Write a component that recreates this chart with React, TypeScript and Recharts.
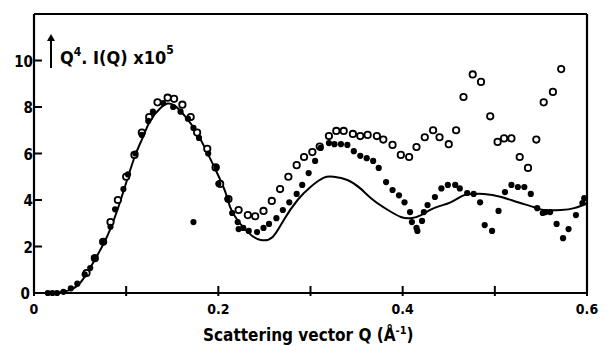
import { ComposedChart, Line, Scatter, XAxis, YAxis } from "recharts";

// theory curve Q^4 I(Q) x 10^5
const curveQ = [0.021, 0.036, 0.05, 0.064, 0.079, 0.093, 0.108, 0.117, 0.126, 0.137, 0.145, 0.153, 0.164, 0.175, 0.186, 0.197, 0.208, 0.215, 0.232, 0.246, 0.259, 0.271, 0.286, 0.3, 0.314, 0.325, 0.34, 0.354, 0.368, 0.384, 0.398, 0.409, 0.42, 0.434, 0.452, 0.466, 0.476, 0.488, 0.507, 0.525, 0.542, 0.553, 0.572, 0.586, 0.6];
const curveI = [0, 0.09, 0.43, 1.29, 2.4, 3.87, 5.72, 6.6, 7.4, 7.95, 8.15, 8.05, 7.6, 7.0, 6.2, 5.3, 4.3, 3.5, 2.62, 2.28, 2.41, 3.14, 4.0, 4.56, 4.95, 5.0, 4.86, 4.5, 4.0, 3.57, 3.27, 3.22, 3.35, 3.65, 3.9, 4.2, 4.26, 4.26, 4.13, 3.9, 3.7, 3.57, 3.57, 3.65, 3.85];

// filled circles
const filledQ = [0.015, 0.02, 0.025, 0.032, 0.04, 0.047, 0.055, 0.061, 0.066, 0.075, 0.083, 0.088, 0.097, 0.102, 0.11, 0.117, 0.124, 0.129, 0.14, 0.151, 0.159, 0.167, 0.173, 0.179, 0.189, 0.198, 0.2, 0.21, 0.215, 0.221, 0.222, 0.227, 0.233, 0.242, 0.249, 0.255, 0.263, 0.27, 0.277, 0.285, 0.291, 0.298, 0.305, 0.311, 0.32, 0.326, 0.333, 0.34, 0.347, 0.354, 0.361, 0.368, 0.374, 0.382, 0.389, 0.396, 0.402, 0.408, 0.41, 0.415, 0.416, 0.421, 0.423, 0.427, 0.435, 0.442, 0.449, 0.457, 0.462, 0.47, 0.477, 0.484, 0.489, 0.497, 0.504, 0.511, 0.518, 0.525, 0.532, 0.539, 0.546, 0.552, 0.555, 0.56, 0.567, 0.574, 0.58, 0.588, 0.595, 0.597, 0.173];
const filledI = [0, 0, 0, 0.05, 0.2, 0.4, 0.8, 1.07, 1.5, 2.2, 2.85, 3.6, 4.47, 5.1, 6.0, 6.8, 7.4, 7.8, 8.17, 8.0, 7.8, 7.5, 7.1, 6.67, 6.0, 5.4, 4.7, 4.04, 3.44, 3.05, 2.75, 2.8, 2.67, 2.62, 2.8, 2.97, 3.22, 3.57, 3.9, 4.26, 4.65, 5.16, 5.68, 6.24, 6.45, 6.4, 6.4, 6.37, 6.1, 5.9, 5.8, 5.68, 5.38, 4.77, 4.43, 4.2, 3.9, 3.48, 3.05, 2.8, 2.67, 3.1, 3.48, 3.78, 4.13, 4.5, 4.65, 4.65, 4.5, 4.3, 4.26, 3.9, 2.92, 2.67, 3.53, 4.34, 4.65, 4.56, 4.56, 4.26, 3.65, 3.44, 3.48, 3.48, 2.97, 2.36, 2.75, 3.35, 3.87, 4.08, 3.05];

// open circles
const openQ = [0.057, 0.066, 0.075, 0.083, 0.091, 0.1, 0.109, 0.117, 0.125, 0.134, 0.145, 0.152, 0.161, 0.17, 0.177, 0.188, 0.197, 0.202, 0.211, 0.222, 0.232, 0.24, 0.249, 0.258, 0.267, 0.276, 0.285, 0.293, 0.302, 0.31, 0.32, 0.328, 0.336, 0.346, 0.354, 0.362, 0.372, 0.379, 0.389, 0.398, 0.407, 0.415, 0.424, 0.433, 0.44, 0.45, 0.458, 0.466, 0.476, 0.485, 0.495, 0.503, 0.51, 0.518, 0.527, 0.536, 0.545, 0.553, 0.563, 0.572];
const openI = [0.86, 1.5, 2.2, 3.05, 4.0, 5.0, 5.94, 6.9, 7.57, 8.2, 8.4, 8.35, 8.1, 7.57, 6.9, 6.2, 5.4, 4.69, 4.04, 3.57, 3.35, 3.3, 3.53, 3.96, 4.47, 5.0, 5.5, 5.85, 6.06, 6.3, 6.75, 6.97, 6.97, 6.84, 6.75, 6.8, 6.75, 6.6, 6.37, 5.94, 5.85, 6.28, 6.7, 7.0, 6.7, 6.4, 7.0, 8.43, 9.4, 9.08, 7.6, 6.5, 6.65, 6.65, 5.85, 5.38, 6.6, 8.2, 8.65, 9.63];

const xTicks = [0, 0.1, 0.2, 0.3, 0.4, 0.5, 0.6];
const xLabels = ["0", "", "0.2", "", "0.4", "", "0.6"];
const yTicks = [0, 2, 4, 6, 8, 10];

const curve = curveQ.map((x, i) => ({ x, y: curveI[i] }));
const filled = filledQ.map((x, i) => ({ x, y: filledI[i] }));
const open = openQ.map((x, i) => ({ x, y: openI[i] }));

const font = "'DejaVu Sans Condensed', 'DejaVu Sans', sans-serif";

const BottomTick = (p: any) => {
  const i = xTicks.indexOf(p.payload.value);
  return (
    <g>
      <line x1={p.x} x2={p.x} y1={p.y - 7} y2={p.y + 3} stroke="#000" strokeWidth={2} />
      <text x={p.x} y={p.y + 21} textAnchor="middle" fontFamily={font} fontWeight="bold" fontSize={14} fill="#000">
        {xLabels[i]}
      </text>
    </g>
  );
};

const TopTick = (p: any) => (
  <line x1={p.x} x2={p.x} y1={p.y - 4} y2={p.y + 6} stroke="#000" strokeWidth={2} />
);

const LeftTick = (p: any) =>
  p.payload.value === 0 ? (
    <text x={p.x - 4} y={p.y + 6} textAnchor="end" fontFamily={font} fontWeight="bold" fontSize={15} fill="#000">0</text>
  ) : (
    <g>
      <line x1={p.x} x2={p.x + 8} y1={p.y} y2={p.y} stroke="#000" strokeWidth={2} />
      <text x={p.x - 1} y={p.y + 6} textAnchor="end" fontFamily={font} fontWeight="bold" fontSize={15} fill="#000">
        {p.payload.value}
      </text>
    </g>
  );

const RightTick = (p: any) =>
  p.payload.value === 0 ? <g /> : (
    <line x1={p.x - 7} x2={p.x + 3} y1={p.y} y2={p.y} stroke="#000" strokeWidth={2} />
  );

const OpenDot = (p: any) => (
  <circle cx={p.cx} cy={p.cy} r={3.2} fill="#fff" stroke="#000" strokeWidth={1.8} />
);
const FilledDot = (p: any) => <circle cx={p.cx} cy={p.cy} r={3.1} fill="#000" />;

export default function App() {
  return (
    <div style={{ position: "absolute", left: 0, top: 0, width: 611, height: 346, background: "#fff" }}>
      <ComposedChart width={611} height={346} margin={{ top: 0, right: 0, bottom: 0, left: 0 }}>
        <XAxis
          xAxisId="b"
          dataKey="x"
          type="number"
          domain={[0, 0.6]}
          ticks={xTicks}
          height={53}
          tickSize={0}
          tickMargin={0}
          tick={BottomTick}
          axisLine={{ stroke: "#000", strokeWidth: 2.2 }}
          interval={0}
        />
        <XAxis
          xAxisId="t"
          orientation="top"
          dataKey="x"
          type="number"
          domain={[0, 0.6]}
          ticks={xTicks}
          height={14}
          tickSize={0}
          tickMargin={0}
          tick={TopTick}
          axisLine={{ stroke: "#000", strokeWidth: 2.2 }}
          interval={0}
        />
        <YAxis
          yAxisId="l"
          dataKey="y"
          type="number"
          domain={[0, 12]}
          ticks={yTicks}
          width={34}
          tickSize={0}
          tickMargin={0}
          tick={LeftTick}
          axisLine={{ stroke: "#000", strokeWidth: 2.2 }}
          interval={0}
        />
        <YAxis
          yAxisId="r"
          orientation="right"
          dataKey="y"
          type="number"
          domain={[0, 12]}
          ticks={yTicks}
          width={24}
          tickSize={0}
          tickMargin={0}
          tick={RightTick}
          axisLine={{ stroke: "#000", strokeWidth: 2.2 }}
          interval={0}
        />
        <Line
          xAxisId="b"
          yAxisId="l"
          data={curve}
          dataKey="y"
          type="natural"
          stroke="#000"
          strokeWidth={2}
          dot={false}
          isAnimationActive={false}
        />
        <Scatter xAxisId="b" yAxisId="l" data={open} dataKey="y" shape={OpenDot} isAnimationActive={false} />
        <Scatter xAxisId="b" yAxisId="l" data={filled} dataKey="y" shape={FilledDot} isAnimationActive={false} />
      </ComposedChart>
      <svg style={{ position: "absolute", left: 0, top: 0 }} width={611} height={346}>
        <line x1={51} x2={51} y1={38} y2={68} stroke="#000" strokeWidth={2} />
        <path d="M47,41 L51,34 L55,41 Z" fill="#000" />
        <text x={60} y={64} fontFamily={font} fontWeight="bold" fontSize={18} fill="#000">
          Q<tspan fontSize={12} dy={-8}>4</tspan>
          <tspan dy={8}>. I(Q) x10</tspan>
          <tspan fontSize={12} dy={-10}>5</tspan>
        </text>
        <text x={203} y={341} fontFamily={font} fontWeight="bold" fontSize={17} fill="#000">
          Scattering vector Q (Å<tspan fontSize={11} dy={-7}>-1</tspan>
          <tspan dy={7}>)</tspan>
        </text>
      </svg>
    </div>
  );
}
